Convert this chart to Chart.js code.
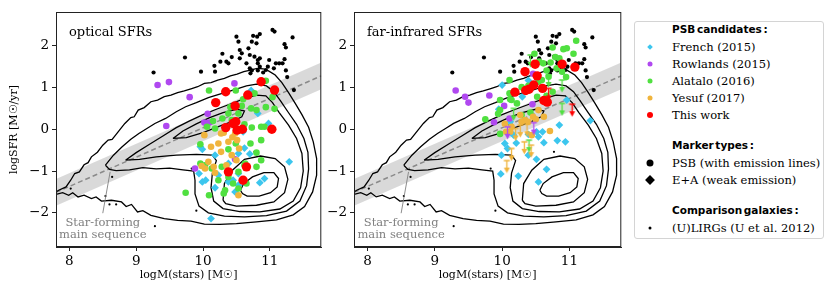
<!DOCTYPE html>
<html>
<head>
<meta charset="utf-8">
<script src="https://cdn.jsdelivr.net/npm/chart.js@4.4.0/dist/chart.umd.min.js"></script>
<style>
body { margin: 0; background: #fff; }
#wrap { position: relative; width: 830px; height: 297px; overflow: hidden; }
#optChart { position: absolute; left: 0; top: 0; }
#firChart { position: absolute; left: 326px; top: 0; }
#legend { position: absolute; left: 634px; top: 21px; width: 188px; height: 216px;
  border: 1px solid #d4d4d4; border-radius: 3px; font-family: 'DejaVu Serif'; font-size: 11.5px; color: #000; }
#legend .t { position: absolute; left: 37px; height: 16px; line-height: 16px; white-space: nowrap; }
#legend .hd { font-family: 'DejaVu Sans'; font-weight: bold; font-size: 10.5px; word-spacing: -2px; }
#legend .m { position: absolute; left: 15px; transform: translate(-50%, -50%); }
.dot { border-radius: 50%; }
.dia { transform: translate(-50%, -50%) rotate(45deg) !important; }
</style>
</head>
<body>
<div id="wrap">
  <canvas id="optChart" width="326" height="297"></canvas>
  <canvas id="firChart" width="300" height="297"></canvas>
  <div id="legend">
    <div class="t hd" style="top:-1px">PSB candidates :</div>
    <span class="m dia" style="top:25px;width:4px;height:4px;background:#3cc6ee"></span>
    <div class="t" style="top:17px">French (2015)</div>
    <span class="m dot" style="top:42px;width:5px;height:5px;background:#b048f0"></span>
    <div class="t" style="top:34px">Rowlands (2015)</div>
    <span class="m dot" style="top:59px;width:5px;height:5px;background:#50e040"></span>
    <div class="t" style="top:51px">Alatalo (2016)</div>
    <span class="m dot" style="top:76px;width:5px;height:5px;background:#f0b43c"></span>
    <div class="t" style="top:68px">Yesuf (2017)</div>
    <span class="m dot" style="top:93px;width:6px;height:6px;background:#ff0000"></span>
    <div class="t" style="top:85px">This work</div>
    <div class="t hd" style="top:115px">Marker types :</div>
    <span class="m dot" style="top:141px;width:7px;height:7px;background:#000"></span>
    <div class="t" style="top:133px">PSB (with emission lines)</div>
    <span class="m dia" style="top:158px;width:7px;height:7px;background:#000"></span>
    <div class="t" style="top:150px">E+A (weak emission)</div>
    <div class="t hd" style="top:180px">Comparison galaxies :</div>
    <span class="m dot" style="top:206px;width:3px;height:3px;background:#000"></span>
    <div class="t" style="top:198px">(U)LIRGs (U et al. 2012)</div>
  </div>
</div>
<script>
// axes
var xTicks = [8, 9, 10, 11];
var xTickLabels = ['8', '9', '10', '11'];
var yTicks = [-2, -1, 0, 1, 2];
var yTickLabels = ['\u22122', '\u22121', '0', '1', '2'];

// star-forming main sequence and its scatter band
var mainSeq = [[7.8, -1.51], [11.77, 1.28]];
var bandLow = [[7.8, -1.83], [11.77, 0.96]];
var bandHigh = [[7.8, -1.19], [11.77, 1.60]];

// SDSS density contours (same in both panels)
var contour1 = [[7.80,-1.50],[7.84,-1.46],[7.95,-1.38],[8.02,-1.22],[8.08,-1.06],[8.15,-1.02],[8.22,-0.85],[8.28,-0.80],[8.33,-0.66],[8.42,-0.55],[8.50,-0.38],[8.58,-0.26],[8.64,-0.24],[8.70,-0.12],[8.83,0.14],[8.92,0.28],[8.97,0.30],[9.03,0.46],[9.12,0.52],[9.22,0.66],[9.32,0.70],[9.42,0.78],[9.52,0.82],[9.62,0.88],[9.72,0.92],[9.82,0.97],[9.92,1.02],[10.02,1.10],[10.12,1.12],[10.22,1.18],[10.32,1.22],[10.41,1.28],[10.51,1.32],[10.61,1.38],[10.71,1.42],[10.81,1.46],[10.90,1.45],[10.98,1.40],[11.08,1.30],[11.18,1.12],[11.28,0.88],[11.38,0.62],[11.48,0.35],[11.58,0.05],[11.65,-0.30],[11.70,-0.70],[11.70,-1.10],[11.64,-1.50],[11.52,-1.85],[11.35,-2.05],[11.10,-2.17],[10.80,-2.22],[10.50,-2.26],[10.25,-2.28],[10.02,-2.27],[9.82,-2.20],[9.62,-2.18],[9.42,-2.14],[9.22,-2.06],[9.10,-1.95],[9.02,-1.98],[8.93,-1.80],[8.85,-1.85],[8.78,-1.74],[8.63,-1.70],[8.48,-1.72],[8.40,-1.62],[8.33,-1.66],[8.22,-1.58],[8.13,-1.62],[8.05,-1.52],[7.99,-1.58],[7.90,-1.52],[7.80,-1.56]];
var contour2 = [[8.54,-0.86],[8.66,-0.62],[8.79,-0.42],[8.92,-0.24],[9.04,-0.10],[9.16,0.02],[9.28,0.14],[9.44,0.26],[9.60,0.42],[9.74,0.54],[9.90,0.64],[10.08,0.76],[10.25,0.84],[10.45,0.94],[10.65,1.04],[10.80,1.08],[10.95,1.04],[11.06,0.90],[11.16,0.68],[11.27,0.42],[11.40,0.12],[11.51,-0.22],[11.57,-0.55],[11.58,-0.95],[11.55,-1.35],[11.45,-1.72],[11.25,-1.96],[10.95,-2.07],[10.62,-2.10],[10.32,-2.08],[10.08,-2.00],[9.94,-1.84],[9.88,-1.55],[9.88,-1.22],[9.86,-1.00],[9.70,-0.97],[9.50,-0.93],[9.30,-0.95],[9.10,-0.92],[8.90,-0.97],[8.70,-0.99],[8.60,-0.96],[8.54,-0.86]];
var contour3 = [[8.84,-0.74],[9.00,-0.56],[9.20,-0.36],[9.40,-0.16],[9.60,0.04],[9.80,0.20],[10.00,0.35],[10.20,0.48],[10.40,0.60],[10.60,0.72],[10.80,0.82],[10.94,0.80],[11.04,0.64],[11.14,0.40],[11.28,0.10],[11.40,-0.22],[11.48,-0.58],[11.50,-1.00],[11.46,-1.40],[11.35,-1.72],[11.15,-1.91],[10.85,-1.98],[10.55,-1.97],[10.30,-1.90],[10.16,-1.72],[10.12,-1.40],[10.14,-1.05],[10.20,-0.75],[10.14,-0.62],[9.90,-0.60],[9.60,-0.62],[9.30,-0.66],[9.05,-0.72],[8.84,-0.74]];
var contour4sf = [[9.55,-0.22],[9.70,-0.04],[9.90,0.13],[10.10,0.28],[10.30,0.40],[10.50,0.48],[10.62,0.44],[10.58,0.30],[10.44,0.19],[10.24,0.07],[10.00,-0.08],[9.75,-0.20],[9.55,-0.22]];
var contour4q = [[10.30,-1.70],[10.32,-1.30],[10.44,-0.98],[10.62,-0.72],[10.86,-0.64],[11.08,-0.70],[11.22,-0.90],[11.27,-1.20],[11.22,-1.52],[11.06,-1.74],[10.80,-1.82],[10.50,-1.84],[10.34,-1.78],[10.30,-1.70]];
var contour5q = [[10.56,-1.46],[10.61,-1.30],[10.74,-1.14],[10.91,-1.04],[11.06,-1.04],[11.13,-1.18],[11.11,-1.38],[11.01,-1.52],[10.84,-1.60],[10.66,-1.60],[10.59,-1.54],[10.56,-1.46]];
var sdssOutliers = [[8.02,-1.42],[8.54,-1.60],[8.60,-1.80],[8.70,-1.80],[9.28,-2.32],[8.64,-1.14],[9.83,-0.94],[10.77,-0.54],[9.90,-1.95]];

// (U)LIRGs, U et al. 2012
var ulirgs = [[9.26,1.36],[9.73,1.72],[9.97,1.38],[10.18,1.38],[10.17,1.52],[10.26,1.62],[10.29,1.81],[10.35,1.62],[10.38,1.58],[10.43,1.73],[10.50,2.22],[10.53,2.10],[10.55,1.90],[10.58,1.82],[10.55,1.70],[10.65,1.58],[10.68,1.94],[10.70,1.78],[10.73,2.10],[10.75,2.24],[10.81,2.22],[10.85,2.28],[10.80,2.06],[10.77,1.74],[10.82,1.66],[10.85,1.70],[10.82,1.58],[10.85,1.50],[10.70,1.46],[10.73,1.41],[10.71,1.34],[10.82,1.41],[10.90,1.36],[10.94,1.42],[10.99,1.66],[11.04,2.38],[11.07,2.34],[11.06,1.46],[11.09,1.58],[11.14,1.58],[11.19,1.58],[11.22,2.04],[11.24,1.96],[11.22,1.68],[11.24,1.41],[11.34,2.20],[11.26,1.25],[11.36,0.94],[10.97,1.50]];

// optical SFRs
var frenchOpt = [[10.72,0.93],[10.82,0.38],[10.98,0.14],[9.96,-0.42],[9.99,-0.48],[10.18,-0.62],[10.53,-0.58],[10.62,-0.45],[10.70,-0.59],[10.38,-0.82],[9.94,-1.06],[9.99,-1.26],[10.04,-1.22],[10.23,-1.10],[10.53,-1.06],[10.45,-1.22],[10.53,-1.34],[10.38,-1.26],[10.92,-1.18],[10.85,-1.28],[10.18,-1.40],[11.29,-0.78],[10.12,-2.14],[10.60,-0.06],[10.48,-1.50]];
var rowlandsOpt = [[9.32,1.06],[9.49,1.13],[9.80,0.77],[10.47,1.10],[10.07,0.37],[10.02,0.16],[10.09,0.16],[9.45,0.08],[10.48,-0.72],[9.88,-0.94]];
var alataloOpt = [[10.09,0.93],[10.49,0.93],[10.94,1.16],[10.77,0.86],[10.60,0.72],[11.04,0.77],[11.07,0.49],[10.94,0.53],[10.72,0.50],[10.58,0.56],[10.41,0.53],[10.38,0.38],[10.29,0.26],[10.53,0.38],[10.80,0.46],[10.06,0.06],[10.18,0.02],[10.43,0.22],[10.73,0.04],[10.87,0.06],[10.92,0.06],[9.96,-0.36],[10.38,-0.48],[10.49,-0.34],[10.71,-0.34],[10.87,-0.26],[10.80,-0.56],[10.63,-0.82],[9.96,-0.82],[10.03,-0.86],[10.13,-0.94],[10.28,-0.90],[10.53,-1.02],[10.80,-0.90],[10.38,-1.14],[10.23,-1.22],[10.33,-1.46],[10.31,-1.54],[10.09,-1.58],[9.74,-1.52],[10.53,-1.42],[10.65,-1.30],[10.45,-1.30],[10.62,-0.86],[10.87,-0.74],[10.15,0.20],[10.62,0.12]];
var yesufOpt = [[10.02,-0.14],[10.31,-0.08],[10.44,-0.19],[10.51,-0.26],[10.38,-0.30],[10.23,-0.34],[10.12,-0.42],[10.27,-0.54],[10.43,-0.62],[10.54,-0.46],[10.50,-0.74],[10.08,-0.78],[10.16,-0.90],[10.03,-0.94],[10.18,-1.04],[10.35,-0.86],[10.53,-1.58],[9.98,-0.88],[10.27,-0.10],[10.48,-0.10],[10.57,-0.02]];
var thisWorkOpt = [[10.87,1.14],[11.07,0.94],[10.34,0.90],[10.67,0.82],[10.19,0.64],[10.48,0.56],[10.34,0.04],[10.45,0.14],[10.49,0.18],[10.51,-0.02],[10.59,0.00],[11.03,0.00],[10.65,-0.90],[10.38,-1.02],[10.60,-1.22]];

// far-infrared SFRs
var frenchFir = [[10.00,1.06],[10.39,1.17],[10.96,0.70],[9.95,0.48],[11.31,0.21],[10.85,0.10],[10.51,-0.06],[10.54,-0.18],[10.62,-0.32],[10.82,-0.27],[10.94,-0.30],[10.21,-0.33],[10.39,-0.62],[10.51,-0.72],[10.66,-0.96],[10.54,-1.26],[10.24,-1.12],[9.98,-1.07],[10.04,-0.34],[9.99,-0.62],[10.17,-0.14],[10.39,-0.12],[10.08,-0.46],[10.60,-0.06],[10.12,0.18],[10.30,0.78]];
var rowlandsFir = [[9.31,0.93],[9.45,0.78],[9.50,0.64],[9.81,0.81],[10.03,0.56],[9.88,0.17],[10.11,0.26],[10.46,1.33],[10.45,0.60]];
var rowlandsFirLim = [[10.08,0.06],[10.47,0.16]];
var alataloFir = [[11.10,2.12],[10.91,1.92],[10.96,1.94],[10.75,1.96],[11.06,1.81],[10.48,1.81],[10.61,1.58],[10.79,1.73],[10.81,1.46],[10.89,1.38],[10.95,1.25],[10.66,1.41],[10.69,1.26],[10.59,1.18],[10.54,1.14],[10.11,1.18],[10.39,1.04],[10.29,1.01],[10.52,0.78],[10.75,0.90],[9.97,0.70],[10.12,0.72],[10.14,0.70],[9.97,0.46],[9.75,0.24],[9.97,-0.11],[10.29,0.34],[10.11,0.86],[10.22,0.62],[10.42,0.40],[10.72,1.60],[10.55,1.62],[10.85,1.70],[9.94,0.37],[10.66,0.80]];
var alataloFirLim = [[10.42,1.78],[10.89,1.18],[10.69,1.30],[10.89,0.62],[10.40,-0.26],[10.17,0.50]];
var yesufFir = [[10.54,0.46],[10.46,0.30],[10.39,0.18],[10.29,0.18],[10.14,0.06],[10.04,0.13],[10.12,-0.06],[10.44,-0.14],[10.71,-0.04],[10.50,0.24],[10.34,0.22],[10.27,0.34],[10.06,-0.06],[10.62,0.30]];
var yesufFirLim = [[10.27,0.10],[10.37,0.12],[10.33,-0.30],[10.14,-0.46],[10.07,-0.75],[10.43,-0.38],[10.20,0.02]];
var thisWorkFir = [[10.34,1.38],[10.49,1.56],[10.52,1.28],[10.89,1.56],[11.08,1.49],[10.19,0.89],[10.35,0.93],[10.40,0.96],[10.47,1.06],[10.60,0.98],[10.62,0.69],[10.67,0.65]];
var thisWorkFirLim = [[10.69,0.98],[11.04,0.60]];

var colFrench = '#3cc6ee', colRowlands = '#b048f0', colAlatalo = '#50e040', colYesuf = '#f0b43c', colThisWork = '#ff0000';
var serif = 'DejaVu Serif';
Chart.defaults.font.family = serif;

function pts(arr) {
    return arr.map(function(p) { return {x: p[0], y: p[1]}; });
}

// down arrow for upper limits, top of the arrow sits on the value
function arrowImg(color) {
    var c = document.createElement('canvas');
    c.width = 9; c.height = 26;
    var g = c.getContext('2d');
    g.strokeStyle = color; g.fillStyle = color; g.lineWidth = 1.3;
    g.beginPath();
    g.moveTo(1.5, 13); g.lineTo(7.5, 13);
    g.moveTo(4.5, 13); g.lineTo(4.5, 21);
    g.stroke();
    g.beginPath();
    g.moveTo(1.5, 20); g.lineTo(7.5, 20); g.lineTo(4.5, 25.5); g.closePath();
    g.fill();
    return c;
}

function scatterSet(arr, color, r, style, order) {
    return {data: pts(arr), showLine: false, pointRadius: r, pointStyle: style,
        pointBackgroundColor: color, pointBorderWidth: 0, borderColor: color,
        backgroundColor: color, order: order};
}

var panelDecor = {
    id: 'panelDecor',
    afterDraw: function(chart, args, o) {
        var ctx = chart.ctx, a = chart.chartArea, x = chart.scales.x, y = chart.scales.y;
        ctx.save();
        // frame
        ctx.strokeStyle = '#222'; ctx.lineWidth = 1;
        ctx.strokeRect(a.left + 0.5, a.top + 0.5, a.right - a.left - 1, a.bottom - a.top - 1);
        // panel label
        ctx.fillStyle = '#000';
        ctx.font = '13px "DejaVu Serif"';
        ctx.textBaseline = 'middle';
        ctx.textAlign = 'left';
        ctx.fillText(o.label, a.left + 13, a.top + 21);
        // main sequence annotation
        ctx.strokeStyle = '#808080'; ctx.lineWidth = 0.9;
        ctx.beginPath();
        ctx.moveTo(x.getPixelForValue(8.50), y.getPixelForValue(-2.01));
        ctx.lineTo(x.getPixelForValue(8.61), y.getPixelForValue(-1.02));
        ctx.stroke();
        ctx.fillStyle = '#808080';
        ctx.font = '11.5px "DejaVu Serif"';
        ctx.textAlign = 'center';
        ctx.fillText('Star-forming', x.getPixelForValue(8.50), y.getPixelForValue(-2.24));
        ctx.fillText('main sequence', x.getPixelForValue(8.50), y.getPixelForValue(-2.53));
        ctx.restore();
    }
};

function makePanel(canvasId, p) {
    var datasets = [
        {data: pts(bandLow), borderColor: 'rgba(0,0,0,0)', borderWidth: 0, pointRadius: 0, fill: false, order: 30},
        {data: pts(bandHigh), borderColor: 'rgba(0,0,0,0)', borderWidth: 0, pointRadius: 0, fill: '-1',
            backgroundColor: 'rgba(0,0,0,0.15)', order: 30},
        {data: pts(mainSeq), borderColor: '#8a8a8a', borderWidth: 1.5, borderDash: [5, 3], pointRadius: 0, order: 25}
    ];
    [contour1, contour2, contour3, contour4sf, contour4q, contour5q].forEach(function(c) {
        datasets.push({data: pts(c), borderColor: '#000', borderWidth: 1.3, pointRadius: 0, fill: false, order: 20});
    });
    datasets.push(scatterSet(sdssOutliers, '#000', 1.1, 'circle', 12));
    datasets.push(scatterSet(ulirgs, '#000', 2.1, 'circle', 10));
    datasets.push(scatterSet(p.french, colFrench, 3.9, 'rectRot', 8));
    datasets.push(scatterSet(p.rowlands, colRowlands, 3.3, 'circle', 7));
    datasets.push(scatterSet(p.alatalo, colAlatalo, 3.3, 'circle', 6));
    datasets.push(scatterSet(p.yesuf, colYesuf, 3.3, 'circle', 5));
    datasets.push(scatterSet(p.thisWork, colThisWork, 4.7, 'circle', 3));
    (p.limits || []).forEach(function(l) {
        datasets.push(scatterSet(l[0], l[1], 3, arrowImg(l[1]), 4));
    });

    return new Chart(document.getElementById(canvasId), {
        type: 'line',
        data: {datasets: datasets},
        options: {
            responsive: false,
            animation: false,
            events: [],
            layout: {padding: {top: 12, right: p.padRight, left: 0, bottom: 0}},
            plugins: {legend: {display: false}, tooltip: {enabled: false}, panelDecor: {label: p.label}},
            scales: {
                x: {
                    type: 'linear', min: 7.8, max: 11.77,
                    afterBuildTicks: function(s) { s.ticks = xTicks.map(function(v) { return {value: v}; }); },
                    afterFit: function(s) { s.height = 50; },
                    ticks: {callback: function(v, i) { return xTickLabels[i]; }, color: '#000',
                        font: {family: serif, size: 13.5}, padding: 2, maxRotation: 0, autoSkip: false},
                    grid: {drawOnChartArea: false, tickLength: 4, color: '#222'},
                    border: {display: true, color: '#222'},
                    title: {display: true, text: 'logM(stars) [M\u2609]', color: '#000',
                        font: {family: serif, size: 11}, padding: {top: 0, bottom: 15}}
                },
                y: {
                    type: 'linear', min: -2.82, max: 2.81,
                    afterBuildTicks: function(s) { s.ticks = yTicks.map(function(v) { return {value: v}; }); },
                    afterFit: function(s) { s.width = p.yWidth; },
                    ticks: {callback: function(v, i) { return yTickLabels[i]; }, color: '#000',
                        font: {family: serif, size: 13.5}, padding: 3, autoSkip: false},
                    grid: {drawOnChartArea: false, tickLength: 4, color: '#222'},
                    border: {display: true, color: '#222'},
                    title: {display: p.yTitle, text: 'logSFR [M\u2609/yr]', color: '#000',
                        font: {family: serif, size: 11}, padding: {top: 8, bottom: 0}}
                }
            }
        },
        plugins: [panelDecor]
    });
}

makePanel('optChart', {
    label: 'optical SFRs', padRight: 2, yWidth: 56, yTitle: true,
    french: frenchOpt, rowlands: rowlandsOpt, alatalo: alataloOpt, yesuf: yesufOpt, thisWork: thisWorkOpt
});
makePanel('firChart', {
    label: 'far-infrared SFRs', padRight: 4, yWidth: 28, yTitle: false,
    french: frenchFir, rowlands: rowlandsFir, alatalo: alataloFir, yesuf: yesufFir, thisWork: thisWorkFir,
    limits: [[yesufFirLim, colYesuf], [alataloFirLim, colAlatalo], [rowlandsFirLim, colRowlands], [thisWorkFirLim, colThisWork]]
});
</script>
</body>
</html>
